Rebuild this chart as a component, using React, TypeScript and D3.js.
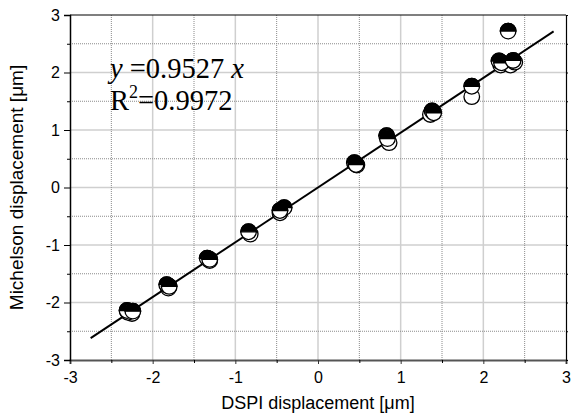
import { useEffect, useRef } from 'react';
import * as d3 from 'd3';

// half-filled markers (top half black)
const halfX = [-2.31, -2.24, -1.83, -1.80, -1.34, -1.31, -0.84, -0.41, -0.46, 0.44, 0.46, 0.83, 0.84, 1.38, 1.40, 1.86, 2.19, 2.22, 2.36, 2.30];
const halfY = [-2.14, -2.15, -1.69, -1.72, -1.23, -1.25, -0.77, -0.35, -0.40, 0.43, 0.40, 0.90, 0.85, 1.33, 1.30, 1.76, 2.20, 2.17, 2.21, 2.72];
// open markers
const openX = [-2.25, -2.30, -1.81, -1.31, -0.82, -0.46, 0.47, 0.86, 1.36, 1.86, 2.21, 2.33, 2.38];
const openY = [-2.19, -2.17, -1.75, -1.27, -0.81, -0.44, 0.39, 0.78, 1.27, 1.58, 2.13, 2.13, 2.18];

const slope = 0.9527;
const fitRange = [-2.75, 2.85];
const majorTicks = [-3, -2, -1, 0, 1, 2, 3];
const minorTicks = [-2.5, -1.5, -0.5, 0.5, 1.5, 2.5];

const App = () => {
	const ref = useRef<SVGSVGElement>(null);

	useEffect(() => {
		const svg = d3.select(ref.current);
		svg.selectAll('*').remove();

		const left = 70, right = 566, top = 15, bottom = 360;
		const x = d3.scaleLinear().domain([-3, 3]).range([left, right]);
		const y = d3.scaleLinear().domain([-3, 3]).range([bottom, top]);
		const sans = 'Arial, "Liberation Sans", sans-serif';

		svg.append('rect').attr('width', 572).attr('height', 416).attr('fill', '#fff');

		// grid
		const grid = svg.append('g');
		grid.selectAll('.vmaj').data(majorTicks.slice(1, -1)).join('line')
			.attr('x1', (d) => x(d)).attr('x2', (d) => x(d)).attr('y1', top).attr('y2', bottom)
			.attr('stroke', '#cfcfcf').attr('stroke-width', 1.5);
		grid.selectAll('.hmaj').data(majorTicks.slice(1, -1)).join('line')
			.attr('y1', (d) => y(d)).attr('y2', (d) => y(d)).attr('x1', left).attr('x2', right)
			.attr('stroke', '#cfcfcf').attr('stroke-width', 1.5);
		grid.selectAll('.vmin').data(minorTicks).join('line')
			.attr('x1', (d) => x(d)).attr('x2', (d) => x(d)).attr('y1', top).attr('y2', bottom)
			.attr('stroke', '#8a8a8a').attr('stroke-width', 1).attr('stroke-dasharray', '1,1');
		grid.selectAll('.hmin').data(minorTicks).join('line')
			.attr('y1', (d) => y(d)).attr('y2', (d) => y(d)).attr('x1', left).attr('x2', right)
			.attr('stroke', '#8a8a8a').attr('stroke-width', 1).attr('stroke-dasharray', '1,1');

		// axes
		const xAxis = svg.append('g').attr('transform', `translate(0,${bottom})`)
			.call(d3.axisBottom(x).tickValues(majorTicks).tickSize(4).tickFormat((d) => String(d)));
		xAxis.select('.domain').attr('stroke', '#555').attr('stroke-width', 2);
		xAxis.selectAll('.tick line').attr('stroke', '#333');
		xAxis.selectAll('text').attr('font-family', sans).attr('font-size', 16).attr('fill', '#000').attr('dy', '1.0em');
		svg.append('g').attr('transform', `translate(0,${bottom})`)
			.call(d3.axisBottom(x).tickValues(minorTicks).tickSize(3).tickFormat(() => ''))
			.call((g) => g.select('.domain').remove());

		const yAxis = svg.append('g').attr('transform', `translate(${left},0)`)
			.call(d3.axisLeft(y).tickValues(majorTicks).tickSize(6).tickPadding(4).tickFormat((d) => String(d)));
		yAxis.select('.domain').attr('stroke-width', 1.5);
		yAxis.selectAll('text').attr('font-family', sans).attr('font-size', 16).attr('fill', '#000');
		svg.append('g').attr('transform', `translate(${left},0)`)
			.call(d3.axisLeft(y).tickValues(minorTicks).tickSize(3).tickFormat(() => ''))
			.call((g) => g.select('.domain').remove());

		svg.append('g').attr('transform', `translate(${right},0)`)
			.call(d3.axisRight(y).tickValues([...majorTicks, ...minorTicks]).tickSize(2).tickFormat(() => ''))
			.call((g) => g.select('.domain').attr('stroke-width', 1.2));
		svg.append('line').attr('x1', left).attr('x2', right).attr('y1', top).attr('y2', top)
			.attr('stroke', '#000').attr('stroke-width', 1.2);

		// fit line
		svg.append('line')
			.attr('x1', x(fitRange[0])).attr('y1', y(slope * fitRange[0]))
			.attr('x2', x(fitRange[1])).attr('y2', y(slope * fitRange[1]))
			.attr('stroke', '#000').attr('stroke-width', 2);

		const r = 7.8;
		const open = openX.map((v, i) => ({ x: v, y: openY[i] }));
		const half = halfX.map((v, i) => ({ x: v, y: halfY[i] }));

		svg.append('g').selectAll('circle').data(open).join('circle')
			.attr('cx', (d) => x(d.x)).attr('cy', (d) => y(d.y)).attr('r', r)
			.attr('fill', '#fff').attr('stroke', '#000').attr('stroke-width', 1.3);

		const hg = svg.append('g').selectAll('g').data(half).join('g')
			.attr('transform', (d) => `translate(${x(d.x)},${y(d.y)})`);
		hg.append('circle').attr('r', r).attr('fill', '#fff').attr('stroke', '#000').attr('stroke-width', 1.3);
		hg.append('path').attr('d', `M${-r},0 A${r},${r} 0 0 1 ${r},0 Z`)
			.attr('fill', '#000').attr('stroke', '#000').attr('stroke-width', 1.3);

		// annotation
		const serif = '"Times New Roman", "Liberation Serif", serif';
		const t1 = svg.append('text').attr('x', 110).attr('y', 78).attr('font-family', serif).attr('font-size', 28.5);
		t1.append('tspan').attr('font-style', 'italic').text('y');
		t1.append('tspan').text(' =0.9527 ');
		t1.append('tspan').attr('font-style', 'italic').text('x');
		const t2 = svg.append('text').attr('x', 110).attr('y', 110).attr('font-family', serif).attr('font-size', 28.5);
		t2.append('tspan').text('R');
		t2.append('tspan').attr('font-size', 18).attr('dy', -12).text('2');
		t2.append('tspan').attr('dy', 12).text('=0.9972');

		// axis titles
		svg.append('text').attr('x', (left + right) / 2).attr('y', 409).attr('text-anchor', 'middle')
			.attr('font-family', sans).attr('font-size', 18).text('DSPI displacement [\u03bcm]');
		svg.append('text').attr('transform', `translate(23,${(top + bottom) / 2}) rotate(-90)`)
			.attr('text-anchor', 'middle').attr('font-family', sans).attr('font-size', 19)
			.text('Michelson displacement [\u03bcm]');
	}, []);

	return <svg ref={ref} width={572} height={416} style={{ display: 'block', position: 'absolute', left: 0, top: 0 }}></svg>;
};

export default App;
